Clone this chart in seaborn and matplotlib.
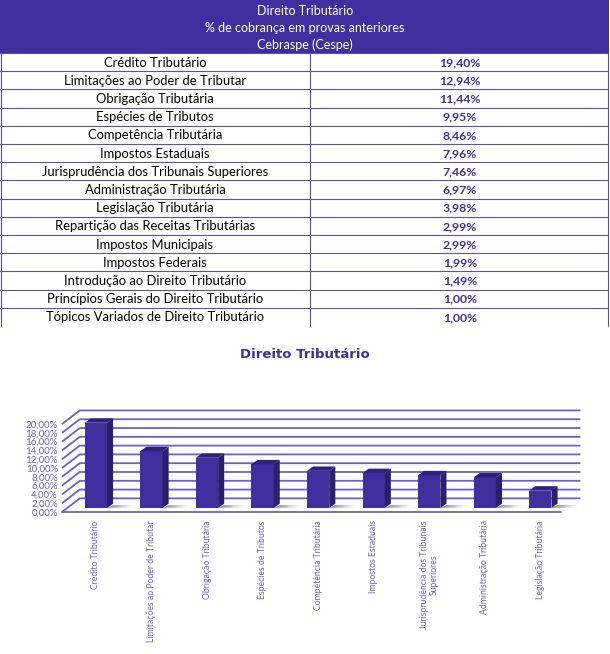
"""Direito Tributário - tabela de cobrança e gráfico de barras 3D (Cebraspe)."""
import numpy as np
import pandas as pd
import seaborn as sns
import matplotlib.pyplot as plt
from matplotlib.patches import Polygon, Rectangle

# Dados da tabela
header_lines = ["Direito Tributário", "% de cobrança em provas anteriores", "Cebraspe (Cespe)"]
topics = [
    "Crédito Tributário",
    "Limitações ao Poder de Tributar",
    "Obrigação Tributária",
    "Espécies de Tributos",
    "Competência Tributária",
    "Impostos Estaduais",
    "Jurisprudência dos Tribunais Superiores",
    "Administração Tributária",
    "Legislação Tributária",
    "Repartição das Receitas Tributárias",
    "Impostos Municipais",
    "Impostos Federais",
    "Introdução ao Direito Tributário",
    "Princípios Gerais do Direito Tributário",
    "Tópicos Variados de Direito Tributário",
]
percent = [19.40, 12.94, 11.44, 9.95, 8.46, 7.96, 7.46, 6.97, 3.98,
           2.99, 2.99, 1.99, 1.49, 1.00, 1.00]

# Dados do gráfico (as 9 primeiras matérias)
chart_title = "Direito Tributário"
chart_labels = [
    "Crédito Tributário",
    "Limitações ao Poder de Tributar",
    "Obrigação Tributária",
    "Espécies de Tributos",
    "Competência Tributária",
    "Impostos Estaduais",
    "Jurisprudência dos Tribunais\nSuperiores",
    "Administração Tributária",
    "Legislação Tributária",
]
chart_values = percent[:9]
y_ticks = list(range(0, 21, 2))

PURPLE = "#3f2f9f"
PURPLE_TXT = "#3d2f9e"
LAVENDER = "#6b60c8"

sns.set_style("white")
plt.rcParams["font.family"] = ["Lato", "DejaVu Sans"]

fig = plt.figure(figsize=(6.1, 6.54), dpi=100)

# ---------------- Tabela ----------------
ax_t = fig.add_axes([0, 1 - 327 / 654, 1, 327 / 654])
ax_t.set_xlim(0, 610)
ax_t.set_ylim(327, 0)
ax_t.axis("off")

header_h = 53
row_h = (326 - header_h) / len(topics)
ax_t.add_patch(Rectangle((0, 0), 609, header_h, facecolor=PURPLE, edgecolor="none"))
for i, line in enumerate(header_lines):
    ax_t.text(305, 11 + 17 * i, line, ha="center", va="center", color="white", fontsize=9.0)

line_kw = dict(color="#5b4fa8", lw=0.8)
for i, (name, val) in enumerate(zip(topics, percent)):
    yc = header_h + row_h * (i + 0.5) + 0.5
    ax_t.text(155, yc, name, ha="center", va="center", color="black", fontsize=9.4)
    ax_t.text(460, yc, f"{val:.2f}%".replace(".", ","), ha="center", va="center",
              color=PURPLE_TXT, fontsize=8.8, fontweight="bold")
    ax_t.plot([0, 608], [header_h + row_h * i] * 2, **line_kw)
ax_t.plot([310, 310], [header_h, 326], **line_kw)
ax_t.plot([0.6, 0.6], [header_h, 326], **line_kw)
ax_t.plot([608, 608], [header_h, 326], **line_kw)

# ---------------- Gráfico ----------------
fig.text(0.5, 1 - 355 / 654, chart_title, ha="center", va="center", color=PURPLE_TXT,
         fontsize=9.5, fontweight="bold", family=["DejaVu Sans"])

ax = fig.add_axes([62 / 610, (654 - 512) / 654, 520 / 610, 102 / 654])
df = pd.DataFrame({"materia": chart_labels, "valor": chart_values})
sns.barplot(data=df, x="materia", y="valor", color=PURPLE, saturation=1, width=0.4,
            linewidth=0, edgecolor=PURPLE, ax=ax, zorder=3)

ax.set_xlim(-0.61, 8.75)
ax.set_ylim(0, 23.2)
sns.despine(ax=ax, left=True, bottom=True)
ax.set_xlabel("")
ax.set_ylabel("")

# parede de fundo com grade em perspectiva
bdx, bdy = 0.32, 3.1
x_left, x_right = ax.get_xlim()
for t in y_ticks:
    ax.plot([x_left, x_left + bdx, 8.72], [t, t + bdy, t + bdy], color=LAVENDER,
            lw=1.3, zorder=1, clip_on=False, solid_capstyle="butt")
ax.plot([x_left, 8.38], [0, 0], color=LAVENDER, lw=1.3, zorder=5, clip_on=False)

# efeito 3D das barras
ddx, ddy, lift = 0.11, 1.0, 0.9
for p in list(ax.patches):
    p.set_y(lift)
    x0, w, h = p.get_x(), p.get_width(), p.get_height()
    x1, top = x0 + w, lift + h
    # sombra no chão
    for k, a in enumerate(np.linspace(0.3, 0.04, 7)):
        ax.add_patch(Polygon([(x1, lift), (x1 + 0.06 * (k + 1), lift),
                              (x1 + 0.06 * (k + 1) + ddx, lift + ddy * 0.7), (x1 + ddx, lift + ddy * 0.7)],
                             closed=True, facecolor="gray", edgecolor="none", alpha=a, zorder=2))
    ax.add_patch(Polygon([(x1, lift), (x1 + ddx, lift + ddy), (x1 + ddx, top + ddy), (x1, top)],
                         closed=True, facecolor="#2a206e", edgecolor="none", zorder=4))
    ax.add_patch(Polygon([(x0, top), (x0 + ddx, top + ddy), (x1 + ddx, top + ddy), (x1, top)],
                         closed=True, facecolor="#2c2278", edgecolor="none", zorder=4))

ax.set_yticks(y_ticks)
ax.set_yticklabels([f"{t:.2f}%".replace(".", ",") for t in y_ticks], color=LAVENDER,
                   fontsize=7.0)
ax.tick_params(axis="y", length=0, pad=3)
ax.tick_params(axis="x", length=0, pad=6)
ax.set_xticks(range(len(chart_labels)))
ax.set_xticklabels(chart_labels, rotation=90, color=LAVENDER, fontsize=6.2,
                   ha="center", va="top", linespacing=1.1)
for lbl in ax.get_xticklabels():
    lbl.set_x(lbl.get_position()[0] + 0.05)

fig.savefig("out.png", dpi=100)
